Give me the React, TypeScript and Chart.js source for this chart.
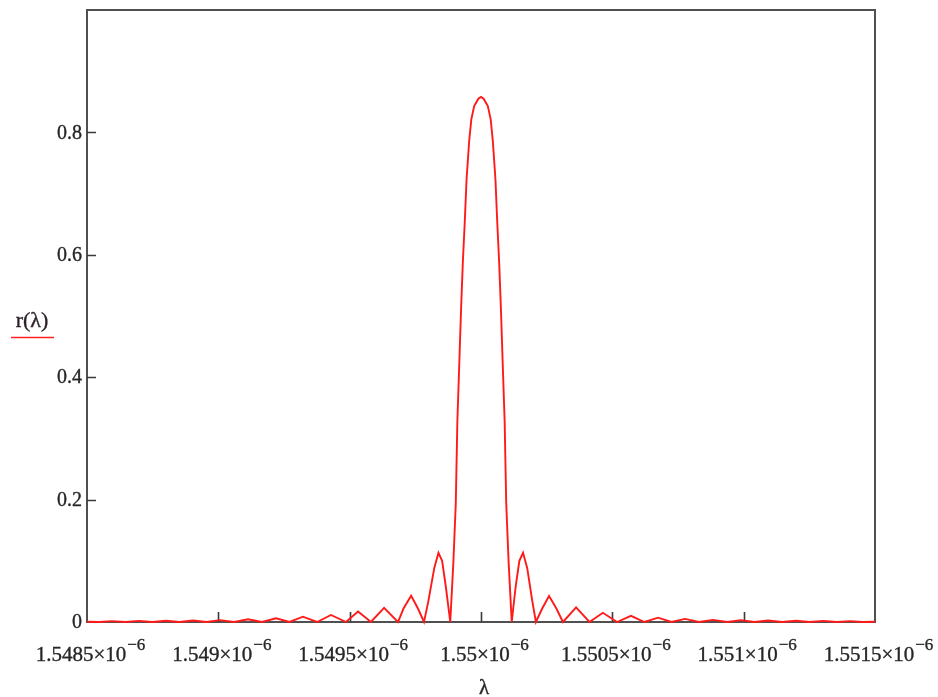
import React, { useEffect, useRef } from "react";
import { Chart, registerables } from "chart.js";

Chart.register(...registerables);

// Wavelength (nm) and reflectivity
const leftLobesNm = [
  1548.5, 1548.546, 1548.595, 1548.647, 1548.698, 1548.749, 1548.801, 1548.852,
  1548.904, 1548.955, 1549.006, 1549.06, 1549.113, 1549.166, 1549.22, 1549.271,
  1549.322, 1549.376, 1549.429, 1549.486, 1549.532, 1549.581, 1549.631, 1549.684,
  1549.705, 1549.734, 1549.76, 1549.783, 1549.8, 1549.822, 1549.838, 1549.852,
  1549.866,
];
const leftLobesR = [
  0.0003, 0, 0.0015, 0, 0.0018, 0, 0.002, 0,
  0.0025, 0, 0.003, 0, 0.0044, 0, 0.006, 0,
  0.0087, 0, 0.0115, 0, 0.017, 0, 0.023, 0,
  0.022, 0.043, 0.022, 0, 0.035, 0.088, 0.113, 0.1,
  0.058,
];

const mainLobeNm = [
  1549.883, 1549.895, 1549.904, 1549.91, 1549.917, 1549.924, 1549.931, 1549.938,
  1549.945, 1549.955, 1549.963, 1549.974, 1549.99, 1550.0, 1550.01, 1550.026,
  1550.037, 1550.045, 1550.055, 1550.062, 1550.069, 1550.076, 1550.083, 1550.09,
  1550.096, 1550.105, 1550.117,
];
const mainLobeR = [
  0, 0.099, 0.194, 0.328, 0.418, 0.51, 0.589, 0.652,
  0.723, 0.786, 0.821, 0.843, 0.855, 0.858, 0.855, 0.843,
  0.821, 0.786, 0.723, 0.652, 0.589, 0.51, 0.418, 0.328,
  0.194, 0.099, 0,
];

const rightLobesNm = [
  1550.132, 1550.146, 1550.16, 1550.176, 1550.195, 1550.209, 1550.233, 1550.259,
  1550.287, 1550.312, 1550.362, 1550.413, 1550.464, 1550.518, 1550.571, 1550.622,
  1550.674, 1550.725, 1550.777, 1550.83, 1550.883, 1550.937, 1550.99, 1551.041,
  1551.093, 1551.146, 1551.199, 1551.251, 1551.302, 1551.355, 1551.405, 1551.454,
  1551.5,
];
const rightLobesR = [
  0.058, 0.1, 0.113, 0.088, 0.035, 0, 0.022, 0.0425,
  0.022, 0, 0.024, 0, 0.015, 0, 0.01, 0,
  0.007, 0, 0.005, 0, 0.0035, 0, 0.003, 0,
  0.0025, 0, 0.002, 0, 0.0018, 0, 0.0015, 0,
  0.0003,
];

const xTickValues = [1548.5, 1549, 1549.5, 1550, 1550.5, 1551, 1551.5];
const xTickLabels = ["1.5485", "1.549", "1.5495", "1.55", "1.5505", "1.551", "1.5515"];
const xExponent = "\u22126";
const yTickValues = [0, 0.2, 0.4, 0.6, 0.8];
const yTickLabels = ["0", "0.2", "0.4", "0.6", "0.8"];

const SERIF = '"Liberation Serif", "Times New Roman", serif';
const TEXT = "#262626";

function boldText(ctx: any, s: string, x: number, y: number) {
  ctx.fillText(s, x, y);
  ctx.strokeText(s, x, y);
}

const framePlugin = {
  id: "mathcadFrame",
  beforeDatasetsDraw(chart: any) {
    const { ctx, chartArea: a, scales } = chart;
    const x = scales.x;
    const y = scales.y;
    ctx.save();
    ctx.strokeStyle = "#505050";
    ctx.lineWidth = 2;
    ctx.strokeRect(a.left, a.top, a.right - a.left, a.bottom - a.top);
    ctx.strokeStyle = "#3a3a3a";
    ctx.lineWidth = 1.6;
    ctx.beginPath();
    xTickValues.slice(1, -1).forEach((v) => {
      const px = Math.round(x.getPixelForValue(v)) + 0.5;
      ctx.moveTo(px, a.bottom);
      ctx.lineTo(px, a.bottom - 10);
    });
    yTickValues.slice(1).forEach((v) => {
      const py = Math.round(y.getPixelForValue(v)) + 0.5;
      ctx.moveTo(a.left, py);
      ctx.lineTo(a.left + 9, py);
    });
    ctx.stroke();
    ctx.restore();
  },
  afterDraw(chart: any) {
    const { ctx, chartArea: a, scales } = chart;
    const x = scales.x;
    const y = scales.y;
    ctx.save();
    ctx.fillStyle = TEXT;
    ctx.strokeStyle = TEXT;
    ctx.lineWidth = 0.35;
    // y tick labels
    ctx.font = `20px ${SERIF}`;
    ctx.textAlign = "right";
    ctx.textBaseline = "middle";
    yTickValues.forEach((v, i) => {
      boldText(ctx, yTickLabels[i], a.left - 5, y.getPixelForValue(v) + 1);
    });
    // x tick labels with superscript exponent
    ctx.textAlign = "left";
    ctx.textBaseline = "alphabetic";
    xTickValues.forEach((v, i) => {
      const base = xTickLabels[i] + "\u00d710";
      ctx.font = `21px ${SERIF}`;
      const wb = ctx.measureText(base).width;
      ctx.font = `17px ${SERIF}`;
      const we = ctx.measureText(xExponent).width;
      const cx = x.getPixelForValue(v) + 3;
      const left = cx - (wb + we) / 2;
      ctx.font = `21px ${SERIF}`;
      boldText(ctx, base, left, 661);
      ctx.font = `17px ${SERIF}`;
      boldText(ctx, xExponent, left + wb + 1, 650);
    });
    // axis titles
    ctx.font = `21px ${SERIF}`;
    ctx.textAlign = "center";
    boldText(ctx, "\u03bb", 484, 694);
    ctx.fillStyle = "#2a1f2a";
    ctx.strokeStyle = "#2a1f2a";
    ctx.font = `22px ${SERIF}`;
    boldText(ctx, "r(\u03bb)", 32, 327);
    ctx.strokeStyle = "#ff2020";
    ctx.lineWidth = 1.6;
    ctx.beginPath();
    ctx.moveTo(11, 337.5);
    ctx.lineTo(54, 337.5);
    ctx.stroke();
    ctx.restore();
  },
};

export default function App() {
  const ref = useRef<HTMLCanvasElement | null>(null);

  useEffect(() => {
    if (!ref.current) return;
    const xs = [...leftLobesNm, ...mainLobeNm, ...rightLobesNm];
    const ys = [...leftLobesR, ...mainLobeR, ...rightLobesR];
    const points = xs.map((v, i) => ({ x: v, y: ys[i] }));
    const chart = new Chart(ref.current, {
      type: "line",
      data: {
        datasets: [
          {
            label: "r(\u03bb)",
            data: points,
            borderColor: "#ff1a1a",
            borderWidth: 1.9,
            pointRadius: 0,
            tension: 0,
            fill: false,
            clip: 4,
          } as any,
        ],
      },
      options: {
        animation: false,
        responsive: false,
        devicePixelRatio: 1,
        layout: { padding: { top: 10, right: 63, left: 0, bottom: 0 } },
        plugins: {
          legend: { display: false },
          tooltip: { enabled: false },
          title: { display: false },
        },
        scales: {
          x: {
            type: "linear",
            min: 1548.5,
            max: 1551.5,
            grid: { display: false },
            border: { display: false },
            ticks: { display: false },
            afterFit: (s: any) => {
              s.height = 75;
            },
          },
          y: {
            type: "linear",
            min: 0,
            max: 1,
            grid: { display: false },
            border: { display: false },
            ticks: { display: false },
            afterFit: (s: any) => {
              s.width = 87;
            },
          },
        },
      },
      plugins: [framePlugin],
    });
    return () => chart.destroy();
  }, []);

  return (
    <div style={{ position: "fixed", left: 0, top: 0, width: 938, height: 697, background: "#fff" }}>
      <canvas ref={ref} width={938} height={697} style={{ display: "block" }} />
    </div>
  );
}
